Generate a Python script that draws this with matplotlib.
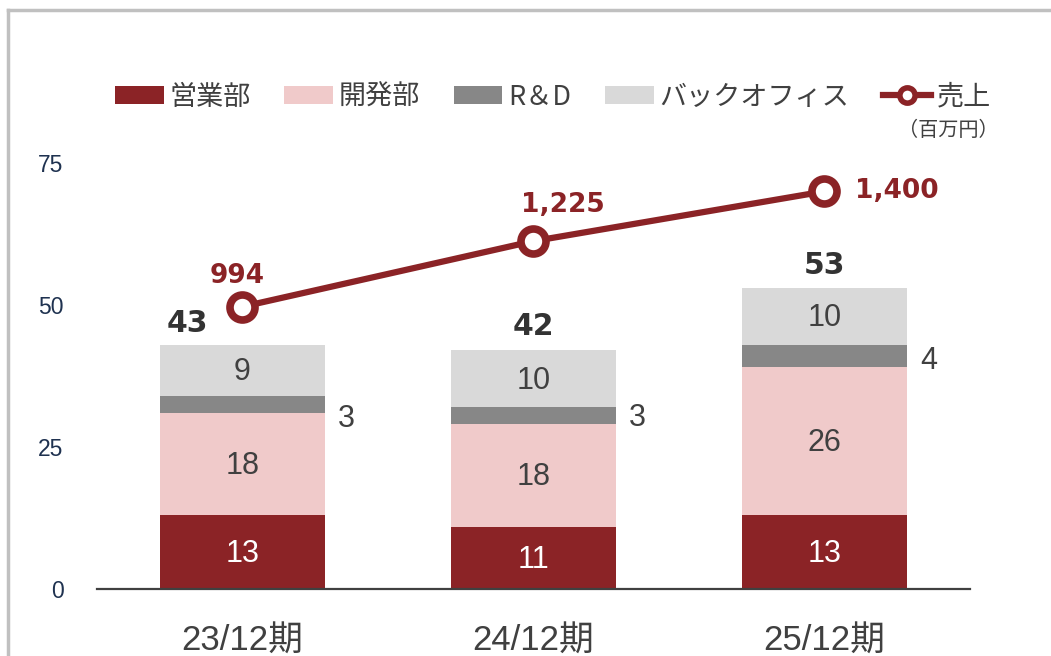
import matplotlib
matplotlib.use("Agg")
import matplotlib.pyplot as plt
from matplotlib.patches import Patch
from matplotlib.lines import Line2D
import numpy as np

plt.rcParams['font.family'] = ['Liberation Sans', 'Noto Sans CJK JP', 'DejaVu Sans']

categories = ["23/12期", "24/12期", "25/12期"]
series_names = ["営業部", "開発部", "R＆D", "バックオフィス"]
sales_dept = [13, 11, 13]
dev_dept = [18, 18, 26]
rnd = [3, 3, 4]
back_office = [9, 10, 10]
revenue = [994, 1225, 1400]
revenue_labels = ["994", "1,225", "1,400"]
y_ticks = [0, 25, 50, 75]

colors = ["#8B2326", "#F0CACA", "#878787", "#D9D9D9"]
line_color = "#8B2326"
text_dark = "#404040"

W, H = 1051, 656
fig = plt.figure(figsize=(W / 100, H / 100), dpi=100)

# slide frame
fig.add_artist(Line2D([8 / W, 8 / W], [0, 1 - 10 / H], color="#C0C0C0", lw=2.5, transform=fig.transFigure))
fig.add_artist(Line2D([8 / W, 1], [1 - 10 / H, 1 - 10 / H], color="#C0C0C0", lw=2.5, transform=fig.transFigure))

ax = fig.add_axes([97 / W, 1 - 589 / H, (970 - 97) / W, (589 - 163) / H])
x = np.arange(len(categories))
width = 0.57
series = [sales_dept, dev_dept, rnd, back_office]
rnd_dy = [-9, 0, -2]  # points, side label nudges
bottom = np.zeros(len(categories))
for i, (vals, c) in enumerate(zip(series, colors)):
    vals = np.array(vals, dtype=float)
    ax.bar(x, vals, width, bottom=bottom, color=c, edgecolor="none", zorder=2)
    for j, (xi, v, b) in enumerate(zip(x, vals, bottom)):
        if i == 2:
            ax.annotate(f"{int(v)}", (xi + width / 2, b + v / 2), xytext=(15, rnd_dy[j] - 1.5),
                        textcoords="offset points", ha="center", va="center",
                        fontsize=22, color=text_dark)
        else:
            ax.annotate(f"{int(v)}", (xi, b + v / 2), xytext=(0, -1.5), textcoords="offset points",
                        ha="center", va="center", fontsize=22,
                        color="white" if i == 0 else text_dark)
    bottom = bottom + vals

totals = bottom
total_dx = [-0.19, 0, 0]
total_dy = [15, 17, 16]
for xi, t, dx, dy in zip(x, totals, total_dx, total_dy):
    ax.annotate(f"{int(t)}", (xi + dx, t), xytext=(0, dy), textcoords="offset points",
                ha="center", va="center", fontsize=21.5, fontweight="bold", color="#333333",
                family="DejaVu Sans")

ax.set_xlim(-0.5, 2.5)
ax.set_ylim(0, 75)
ax.set_yticks(y_ticks)
ax.tick_params(axis="y", length=0, pad=24, labelsize=16.5, labelcolor="#1F3250")
ax.set_xticks(x)
ax.set_xticklabels(categories)
ax.tick_params(axis="x", length=0, pad=26, labelsize=25, labelcolor=text_dark)
for s in ["top", "right", "left"]:
    ax.spines[s].set_visible(False)
ax.spines["bottom"].set_color(text_dark)
ax.spines["bottom"].set_linewidth(1.6)

ax2 = ax.twinx()
ax2.set_ylim(0, 1500)
ax2.axis("off")
ax2.plot(x, revenue, color=line_color, lw=4.5, marker="o", markersize=18,
         markerfacecolor="white", markeredgecolor=line_color, markeredgewidth=5.5,
         zorder=5, clip_on=False)
offsets = [(-4, 22, "center"), (21, 26, "center"), (22, 0, "left")]
for xi, v, lab, (dx, dy, ha) in zip(x, revenue, revenue_labels, offsets):
    ax2.annotate(lab, (xi, v), xytext=(dx, dy), textcoords="offset points", ha=ha,
                 va="center", fontsize=19, fontweight="bold", color=line_color,
                 family="DejaVu Sans")

handles = [Patch(facecolor=c, edgecolor="none") for c in colors]
handles.append(Line2D([], [], color=line_color, lw=4.5, marker="o", markersize=11,
                      markerfacecolor="white", markeredgecolor=line_color, markeredgewidth=4))
labels = series_names + ["売上"]
leg = fig.legend(handles, labels, loc="center", bbox_to_anchor=(553 / W, 1 - 97 / H), ncol=5,
                 frameon=False, fontsize=19.5, handlelength=1.8, handleheight=0.6,
                 handletextpad=0.2, columnspacing=1.25, borderaxespad=0)
for t in leg.get_texts():
    t.set_color(text_dark)
    t.set_family(['Noto Sans CJK JP', 'DejaVu Sans'])

fig.text(948 / W, 1 - 131 / H, "（百万円）", ha="center", va="center", fontsize=14.5,
         color=text_dark, family=['Noto Sans CJK JP', 'DejaVu Sans'])

fig.savefig("out.png", dpi=100)
